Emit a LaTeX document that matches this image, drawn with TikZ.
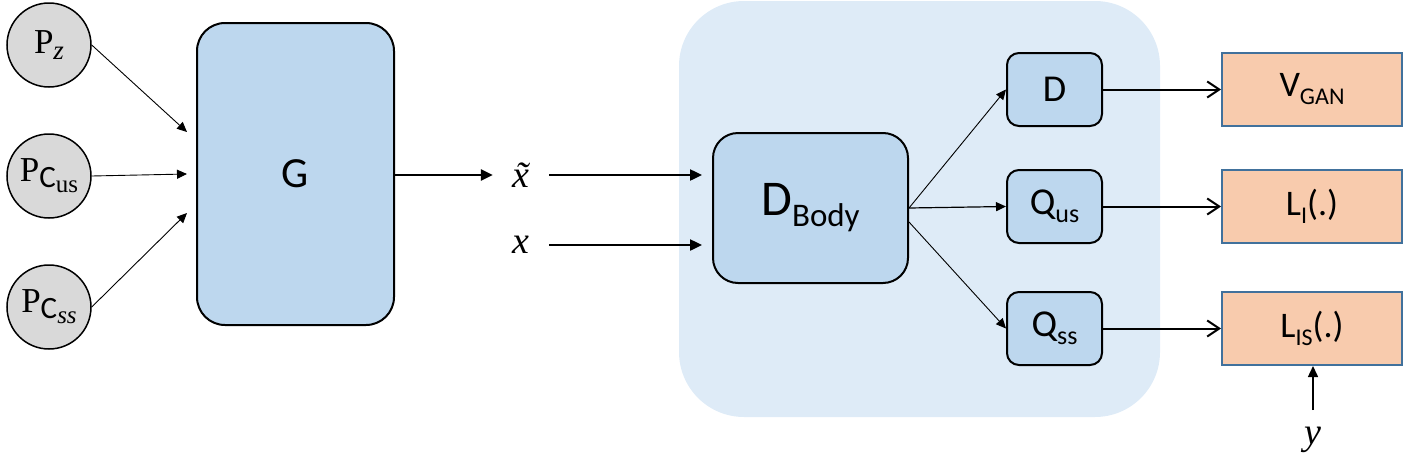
\documentclass[tikz,border=0pt]{standalone}
\usepackage{fontspec}
\newfontfamily\calib{Carlito}
\newfontfamily\serif{Liberation Serif}
\usetikzlibrary{arrows.meta}
\definecolor{gfill}{HTML}{BDD7EE}
\definecolor{panelc}{HTML}{DEEBF7}
\definecolor{circc}{HTML}{D9D9D9}
\definecolor{orf}{HTML}{F8CBAD}
\definecolor{orb}{HTML}{41719C}
\newcommand{\lowsub}[3]{\raisebox{-#1}{\fontsize{#2}{#2}\selectfont #3}}
\begin{document}
\begin{tikzpicture}[x=1pt,y=-1pt,
  box/.style={draw=black, line width=2pt, fill=gfill, rounded corners=#1, inner sep=0pt, font=\calib},
  box/.default=12,
  circ/.style={circle, draw=black, line width=1.5pt, fill=circc, minimum size=84pt, inner sep=0pt, font=\serif},
  obox/.style={draw=orb, line width=2pt, fill=orf, minimum width=180pt, minimum height=73pt, inner sep=0pt, font=\calib},
  small/.style={box=12, minimum width=95pt, minimum height=73pt},
  lbl/.style={minimum width=56pt, inner sep=0pt, font=\serif\itshape},
  thinarr/.style={line width=0.9pt, -{Triangle[length=10pt,width=9pt]}},
  thickarr/.style={line width=2.4pt, -{Triangle[length=12pt,width=11pt]}},
  openarr/.style={line width=2pt, -{Straight Barb[length=12pt,width=16pt]}}
]
\useasboundingbox (0,0) rectangle (1403,474);
% background panel
\node[fill=panelc, rounded corners=65pt, minimum width=481pt, minimum height=416pt, inner sep=0pt] (panel) at (919.5,209) {};
% priors
\node[circ] (pz) at (49,45) {\fontsize{35}{40}\selectfont P\lowsub{6pt}{27}{\itshape z}};
\node[circ] (pcus) at (49,176) {\fontsize{35}{40}\selectfont P\lowsub{6pt}{31}{{\calib C}\lowsub{5pt}{25}{us}}};
\node[circ] (pcss) at (49,307) {\fontsize{35}{40}\selectfont P\lowsub{6pt}{31}{{\calib C}\lowsub{5pt}{25}{\itshape ss}}};
% generator
\node[box=28, minimum width=197pt, minimum height=302pt] (g) at (295.5,174) {\fontsize{43}{46}\selectfont G};
% inputs
\node[lbl] (xt) at (521,175) {\fontsize{38}{42}\selectfont\~{x}};
\node[lbl] (xn) at (521,245) {\fontsize{38}{42}\selectfont x};
% discriminator
\node[box=25, minimum width=195pt, minimum height=150pt] (db) at (810.5,208) {\fontsize{50}{54}\selectfont D\lowsub{11pt}{33}{Body}};
\node[small] (d) at (1054.5,89.5) {\fontsize{38}{42}\selectfont D};
\node[small] (qus) at (1054.5,206.5) {\fontsize{38}{42}\selectfont Q\lowsub{8pt}{26}{us}};
\node[small] (qss) at (1054.5,328.5) {\fontsize{38}{42}\selectfont Q\lowsub{8pt}{26}{ss}};
% losses
\node[obox] (vgan) at (1312,89.5) {\fontsize{36}{40}\selectfont V\lowsub{8pt}{24}{GAN}};
\node[obox] (li) at (1312,206.5) {\fontsize{36}{40}\selectfont L\lowsub{8pt}{24}{I}(.)};
\node[obox] (lis) at (1312,328.5) {\fontsize{36}{40}\selectfont L\lowsub{8pt}{24}{IS}(.)};
\node[font=\serif\itshape] (yn) at (1313,440) {\fontsize{38}{42}\selectfont y};
% connectors
\coordinate (gi1) at (187,132);
\coordinate (gi2) at (187,174);
\coordinate (gi3) at (187,213);
\draw[thinarr] (pz.east) -- (gi1);
\draw[thinarr] (pcus.east) -- (gi2);
\draw[thinarr] (pcss.east) -- (gi3);
\draw[thickarr] (g.east |- xt.west) -- (xt.west);
\draw[thickarr, shorten >=10pt] (xt.east) -- (xt.east -| db.west);
\draw[thickarr, shorten >=10pt] (xn.east) -- (xn.east -| db.west);
\draw[thinarr] (db.east) -- (d.west);
\draw[thinarr, line width=1.2pt] (db.east) -- (qus.west);
\draw[thinarr] ([yshift=-14pt]db.east) -- (qss.west);
\draw[openarr] (d.east) -- (vgan.west);
\draw[openarr] (qus.east) -- (li.west);
\draw[openarr] (qss.east) -- (lis.west);
\draw[line width=1.5pt, -{Triangle[length=11pt,width=10pt]}] ([yshift=30pt]yn.center) -- (yn.center |- lis.south);
\end{tikzpicture}
\end{document}
